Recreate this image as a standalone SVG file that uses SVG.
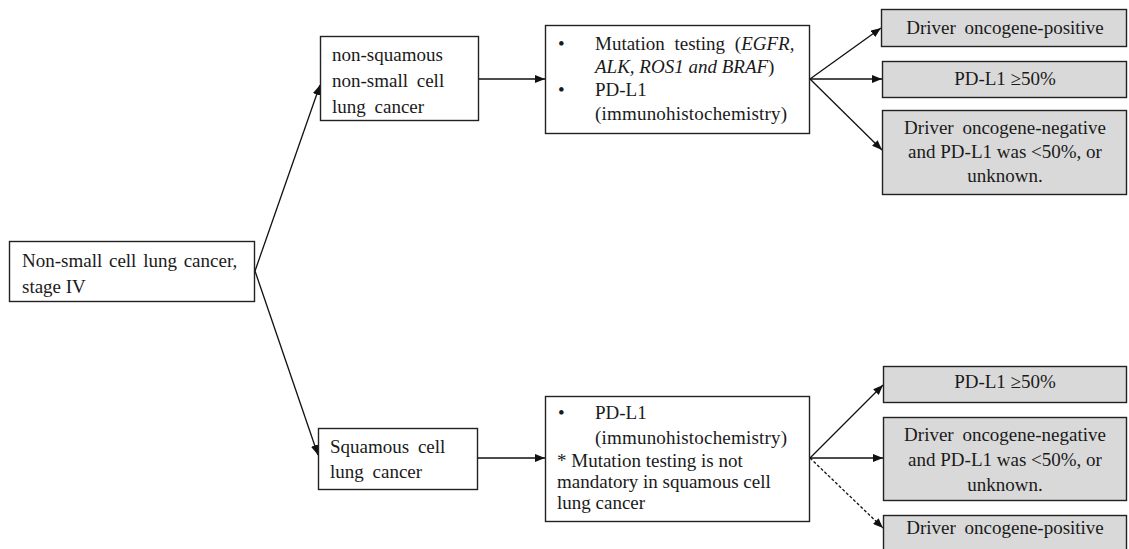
<svg xmlns="http://www.w3.org/2000/svg" width="1129" height="549" viewBox="0 0 1129 549">
<defs>
<marker id="ah" viewBox="0 0 10 8" refX="10" refY="4" markerWidth="10" markerHeight="8" markerUnits="userSpaceOnUse" orient="auto">
<path d="M0,0 L10,4 L0,8 z" fill="#111"/>
</marker>
</defs>
<style>
text{font-family:"Liberation Serif","Times New Roman",serif;font-size:19px;fill:#1a1a1a}
.box{fill:#fff;stroke:#222;stroke-width:1.4}
.gbox{fill:#d9d9d9;stroke:#222;stroke-width:1.4}
.c{text-anchor:middle}
.ln{stroke:#111;stroke-width:1.3;fill:none;marker-end:url(#ah)}
.dash{stroke-dasharray:3,2}
.it{font-style:italic}
</style>
<rect width="1129" height="549" fill="#fff"/>
<g id="connectors">
<line class="ln" x1="255" y1="271" x2="320" y2="85"/>
<line class="ln" x1="255" y1="271" x2="318" y2="455"/>
<line class="ln" x1="479" y1="79" x2="545" y2="79"/>
<line class="ln" x1="478" y1="458" x2="545" y2="458"/>
<line class="ln" x1="810" y1="79" x2="881" y2="28"/>
<line class="ln" x1="810" y1="79" x2="882" y2="79"/>
<line class="ln" x1="810" y1="79" x2="882" y2="150"/>
<line class="ln" x1="810" y1="458" x2="883" y2="385"/>
<line class="ln" x1="810" y1="458" x2="883" y2="458"/>
<line class="ln dash" x1="810" y1="458" x2="883" y2="528"/>
</g>
<g id="nsclc">
<rect class="box" x="9.5" y="241.5" width="245" height="60"/>
<text x="22" y="267" word-spacing="2">Non-small cell lung cancer,</text>
<text x="22" y="293">stage IV</text>
</g>
<g id="nonsquamous">
<rect class="box" x="320.5" y="36.5" width="158" height="84"/>
<text x="332" y="61">non-squamous</text>
<text x="332" y="87" word-spacing="4">non-small cell</text>
<text x="332" y="113" word-spacing="4">lung cancer</text>
</g>
<g id="squamous">
<rect class="box" x="318.5" y="428.5" width="159" height="61"/>
<text x="330" y="453" word-spacing="4">Squamous cell</text>
<text x="330" y="478" word-spacing="4">lung cancer</text>
</g>
<g id="tests-top">
<rect class="box" x="545.5" y="25.5" width="264" height="108"/>
<text x="558" y="50">•</text>
<text x="595" y="50" word-spacing="5">Mutation testing (<tspan class="it">EGFR,</tspan></text>
<text x="595" y="73"><tspan class="it">ALK, ROS1 and BRAF</tspan>)</text>
<text x="558" y="96">•</text>
<text x="595" y="96">PD-L1</text>
<text x="595" y="120" letter-spacing="0.2">(immunohistochemistry)</text>
</g>
<g id="tests-bottom">
<rect class="box" x="545.5" y="396.5" width="264" height="125"/>
<text x="558" y="419">•</text>
<text x="595" y="419">PD-L1</text>
<text x="595" y="444" letter-spacing="0.2">(immunohistochemistry)</text>
<text x="557" y="467">* Mutation testing is not</text>
<text x="557" y="488">mandatory in squamous cell</text>
<text x="557" y="509">lung cancer</text>
</g>
<g id="top-positive">
<rect class="gbox" x="881.5" y="9.5" width="245" height="37"/>
<text class="c" x="1005" y="34" word-spacing="4">Driver oncogene-positive</text>
</g>
<g id="top-pdl1">
<rect class="gbox" x="882.5" y="61.5" width="244" height="36"/>
<text class="c" x="1005" y="85">PD-L1 ≥50%</text>
</g>
<g id="top-negative">
<rect class="gbox" x="882.5" y="110.5" width="244" height="84"/>
<text class="c" x="1005" y="134" word-spacing="4">Driver oncogene-negative</text>
<text class="c" x="1005" y="158">and PD-L1 was &lt;50%, or</text>
<text class="c" x="1005" y="182">unknown.</text>
</g>
<g id="bottom-pdl1">
<rect class="gbox" x="883.5" y="366.5" width="243" height="36"/>
<text class="c" x="1005" y="388">PD-L1 ≥50%</text>
</g>
<g id="bottom-negative">
<rect class="gbox" x="883.5" y="417.5" width="243" height="83"/>
<text class="c" x="1005" y="441" word-spacing="4">Driver oncogene-negative</text>
<text class="c" x="1005" y="466">and PD-L1 was &lt;50%, or</text>
<text class="c" x="1005" y="491">unknown.</text>
</g>
<g id="bottom-positive">
<rect class="gbox" x="883.5" y="515.5" width="243" height="40"/>
<text class="c" x="1005" y="534" word-spacing="4">Driver oncogene-positive</text>
</g>
</svg>
